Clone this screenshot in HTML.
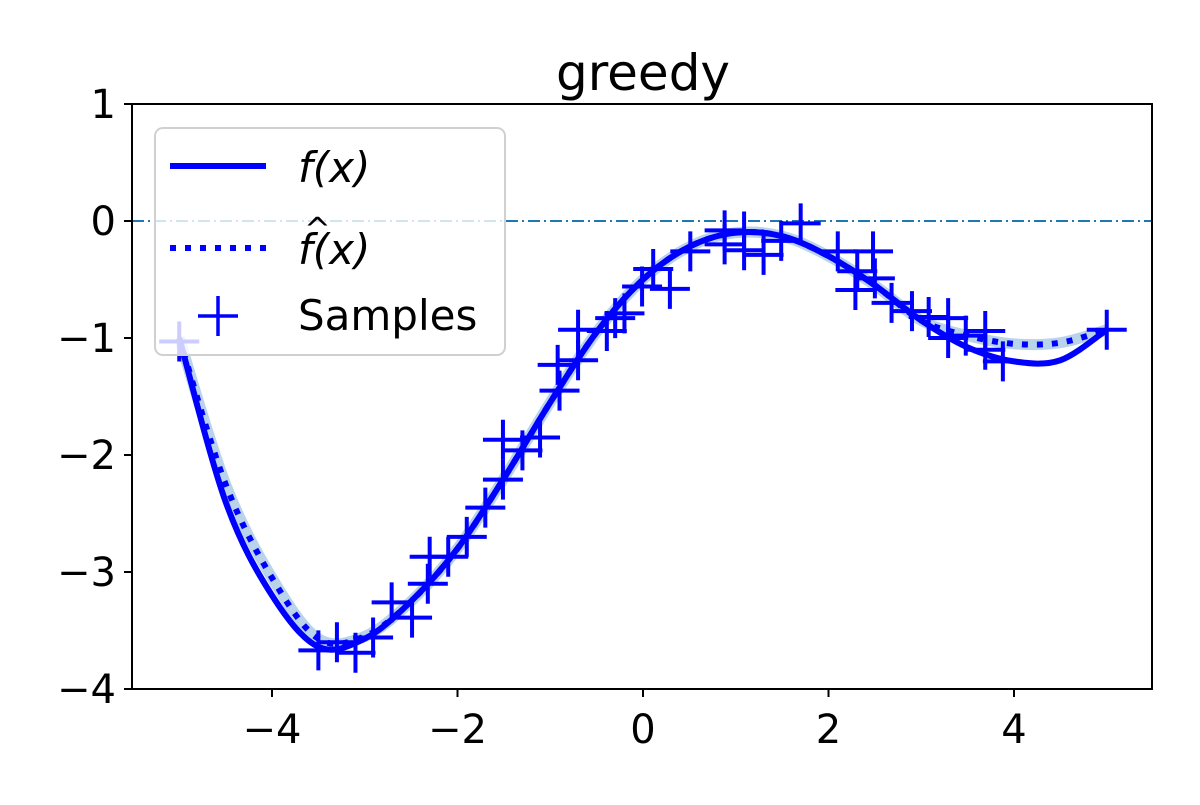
<!DOCTYPE html>
<html><head><meta charset="utf-8"><style>
body{margin:0;background:#fff;}
svg text{font-family:"DejaVu Sans","Liberation Sans",sans-serif;}
</style></head><body>
<svg id="chart" width="1200" height="800" xmlns="http://www.w3.org/2000/svg">
<rect width="1200" height="800" fill="#fff"/>
<text x="643" y="90" font-size="50" text-anchor="middle">greedy</text>
<g id="plot"></g>
<g id="axes"></g>
<g>
<rect x="155" y="128" width="350" height="227" rx="8" fill="#fff" fill-opacity="0.8" stroke="#d0d0d0" stroke-width="2"/>
<line x1="170" y1="166" x2="266" y2="166" stroke="#0000ff" stroke-width="6"/>
<text x="298" y="182" font-size="42" font-style="italic">f(x)</text>
<line x1="170" y1="248" x2="266" y2="248" stroke="#0000ff" stroke-width="6" stroke-dasharray="6,9"/>
<text x="298" y="264" font-size="42" font-style="italic">f(x)</text>
<text x="304" y="240" font-size="32">^</text>
<line x1="198" y1="316" x2="238" y2="316" stroke="#0000ff" stroke-width="3.5"/>
<line x1="218" y1="296" x2="218" y2="336" stroke="#0000ff" stroke-width="3.5"/>
<text x="298" y="330" font-size="42">Samples</text>
</g>
</svg>
<script>
const curveX = [-5,-4.5,-4,-3.5,-3,-2.5,-2,-1.5,-1,-0.5,0,0.5,1,1.5,2,2.5,3,3.5,4,4.5,5];
const fValues = [-1.0,-2.4,-3.2,-3.64,-3.57,-3.25,-2.8,-2.2,-1.55,-0.95,-0.5,-0.22,-0.1,-0.13,-0.3,-0.55,-0.85,-1.08,-1.2,-1.19,-0.93];
const fhatValues = [-1.0,-2.25,-3.05,-3.57,-3.55,-3.25,-2.8,-2.2,-1.55,-0.95,-0.5,-0.22,-0.1,-0.13,-0.3,-0.55,-0.85,-0.98,-1.05,-1.04,-0.93];
const sampleX = [-3.5,-3.3,-3.1,-2.91,-2.71,-2.49,-2.32,-2.1,-2.3,-1.9,-1.7,-1.51,-1.51,-1.3,-1.11,-0.9,-0.92,-0.7,-0.7,-0.3,-0.39,-0.2,-0.01,0.11,0.29,0.51,0.88,1.09,0.88,1.09,1.3,1.49,1.7,2.1,2.31,2.48,2.5,2.29,2.68,2.9,3.08,3.29,3.29,3.48,3.69,3.69,3.88,5.0];
const sampleY = [-3.67,-3.6,-3.69,-3.56,-3.26,-3.39,-3.1,-2.87,-2.87,-2.7,-2.45,-2.21,-1.87,-1.96,-1.85,-1.45,-1.23,-0.93,-1.19,-0.83,-0.94,-0.79,-0.56,-0.41,-0.58,-0.26,-0.08,-0.09,-0.2,-0.25,-0.29,-0.17,-0.02,-0.26,-0.43,-0.26,-0.49,-0.59,-0.7,-0.77,-0.82,-0.83,-1.0,-0.98,-0.94,-1.1,-1.2,-0.93];
const xTicks = [-4,-2,0,2,4];
const yTicks = [1,0,-1,-2,-3,-4];
const xTickLabels = ["\u22124","\u22122","0","2","4"];
const yTickLabels = ["1","0","\u22121","\u22122","\u22123","\u22124"];

const L=132,R=1152,T=104,B=689;
const xs = v => 643 + v*92.75;
const ys = v => T + (1 - v)*(B-T)/5;
const NS='http://www.w3.org/2000/svg';
const plot=document.getElementById('plot'), axes=document.getElementById('axes');
function mk(tag,attrs,parent){const e=document.createElementNS(NS,tag);for(const k in attrs)e.setAttribute(k,attrs[k]);parent.appendChild(e);return e;}
function smooth(xa,ya){
  const p=xa.map((x,i)=>[xs(x),ys(ya[i])]);
  let d='M'+p[0][0]+','+p[0][1];
  for(let i=0;i<p.length-1;i++){
    const p0=p[Math.max(0,i-1)],p1=p[i],p2=p[i+1],p3=p[Math.min(p.length-1,i+2)];
    const c1=[p1[0]+(p2[0]-p0[0])/6,p1[1]+(p2[1]-p0[1])/6];
    const c2=[p2[0]-(p3[0]-p1[0])/6,p2[1]-(p3[1]-p1[1])/6];
    d+=' C'+c1+' '+c2+' '+p2;
  }
  return d;
}
const z=mk('line',{x1:L,x2:R,y1:ys(0),y2:ys(0),stroke:'#1f77b4','stroke-width':2,'stroke-dasharray':'12,4,2,4'},plot);


const band=mk('path',{d:smooth(curveX,fhatValues),fill:'none',stroke:'#b9d4ea','stroke-width':11},plot);


const fl=mk('path',{d:smooth(curveX,fValues),fill:'none',stroke:'#0000ff','stroke-width':6},plot);


const fh=mk('path',{d:smooth(curveX,fhatValues),fill:'none',stroke:'#0000ff','stroke-width':6,'stroke-dasharray':'6,9'},plot);


sampleX.forEach((x,i)=>{
  const cx=xs(x),cy=ys(sampleY[i]);
  const g=mk('path',{d:`M${cx-20},${cy}H${cx+20}M${cx},${cy-20}V${cy+20}`,stroke:'#0000ff','stroke-width':4,fill:'none'},plot);
  
  
});
const c0=mk('path',{d:`M${xs(-5)-20},${ys(-1.03)}H${xs(-5)+20}M${xs(-5)},${ys(-1.03)-20}V${ys(-1.03)+20}`,stroke:'#0000ff','stroke-width':4,fill:'none'},plot);


const fr=mk('rect',{x:L,y:T,width:R-L,height:B-T,fill:'none',stroke:'#000','stroke-width':2},axes);


xTicks.forEach((v,i)=>{
  const t=mk('line',{x1:xs(v),x2:xs(v),y1:B,y2:B+8,stroke:'#000','stroke-width':2},axes);
  
  
  const l=mk('text',{x:xs(v),y:B+54,'font-size':40,'text-anchor':'middle'},axes);
  l.textContent=xTickLabels[i];
  
  
});
yTicks.forEach((v,i)=>{
  const t=mk('line',{x1:L-8,x2:L,y1:ys(v),y2:ys(v),stroke:'#000','stroke-width':2},axes);
  
  
  const l=mk('text',{x:L-16,y:ys(v)+14,'font-size':40,'text-anchor':'end'},axes);
  l.textContent=yTickLabels[i];
  
  
});
</script>
</body></html>
